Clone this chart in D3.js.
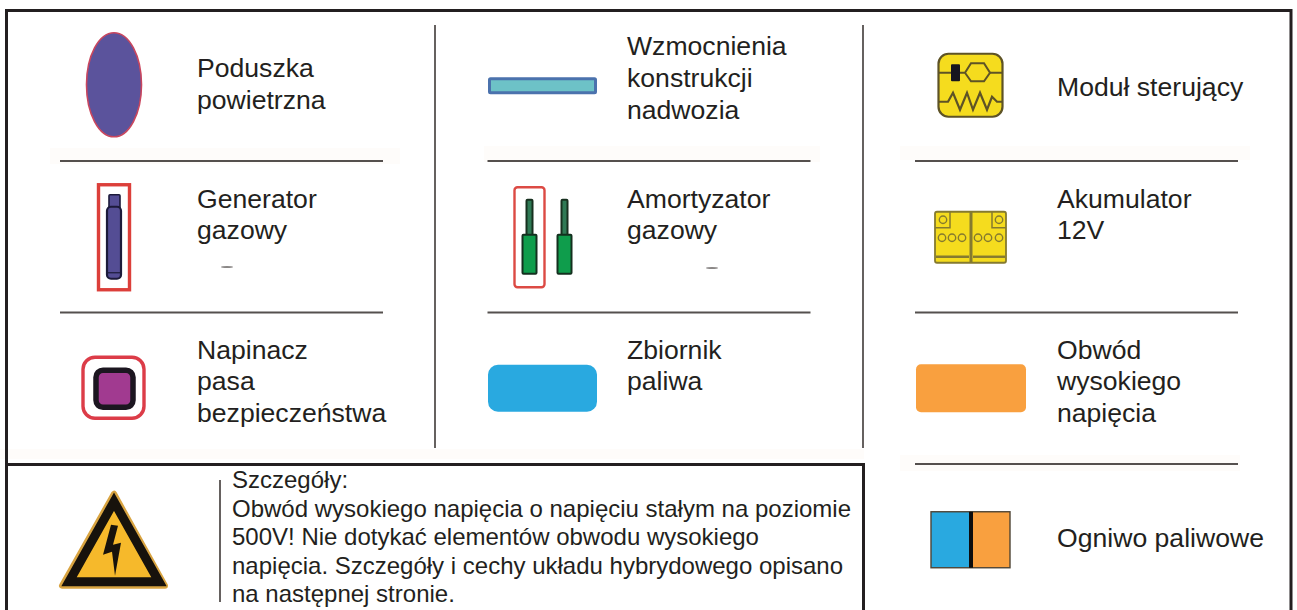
<!DOCTYPE html>
<html lang="pl">
<head>
  <meta charset="UTF-8">
  <script src="https://d3js.org/d3.v7.min.js"></script>
  <title>Legenda</title>
  <style>
    body { margin: 0; background: #fff; overflow: hidden; }
    text { font-family: "Liberation Sans", Arial, sans-serif; fill: #231f20; }
  </style>
</head>
<body>
<script>
  // Legend content, one list per column
  const column1 = [
    { icon: "airbag", lines: ["Poduszka", "powietrzna"] },
    { icon: "generator", lines: ["Generator", "gazowy"] },
    { icon: "tensioner", lines: ["Napinacz", "pasa", "bezpieczeństwa"] }
  ];
  const column2 = [
    { icon: "reinforcement", lines: ["Wzmocnienia", "konstrukcji", "nadwozia"] },
    { icon: "damper", lines: ["Amortyzator", "gazowy"] },
    { icon: "tank", lines: ["Zbiornik", "paliwa"] }
  ];
  const column3 = [
    { icon: "module", lines: ["Moduł sterujący"] },
    { icon: "battery", lines: ["Akumulator", "12V"] },
    { icon: "hv", lines: ["Obwód", "wysokiego", "napięcia"] },
    { icon: "fuelcell", lines: ["Ogniwo paliwowe"] }
  ];
  const columns = [column1, column2, column3];
  const detailLines = [
    "Szczegóły:",
    "Obwód wysokiego napięcia o napięciu stałym na poziomie",
    "500V! Nie dotykać elementów obwodu wysokiego",
    "napięcia. Szczegóły i cechy układu hybrydowego opisano",
    "na następnej stronie."
  ];

  const width = 1297, height = 610;
  const ink = "#231f20", rule = "#55504e", red = "#dc3f3a";
  const blue = "#29a9e0", orange = "#f9a03f", yellow = "#f5dc1e";

  const svg = d3.select("body").append("svg")
    .attr("width", width).attr("height", height)
    .style("display", "block");

  // Grid scales: column index and row index to page position
  const iconX = d3.scaleLinear().domain([0, 2]).range([114, 971]);
  const textX = d3.scaleLinear().domain([0, 2]).range([197, 1057]);
  const ruleX = d3.scaleLinear().domain([0, 2]).range([60, 915]);
  const rowBand = d3.scaleBand().domain([0, 1, 2, 3]).range([9.5, 615.5]);
  const rowMid = r => rowBand(r) + rowBand.bandwidth() / 2;
  const lineGap = 31.7;

  // Baseline of the first text line, relative to the row middle
  function firstBaseline(c, r, n) {
    if (n === 1) return c === 2 && r === 3 ? 7 : 10.5;
    if (r === 0) return n === 3 ? -30 : -8;
    if (r === 1) return -29;
    return -29.5;
  }

  // Faint scan halos behind the artwork
  const halo = "#fefcfa";
  [[50, 148, 350, 16], [484, 146, 336, 16], [900, 146, 350, 14], [900, 455, 340, 16], [0, 449, 864, 10]]
    .forEach(b => svg.append("rect").attr("x", b[0]).attr("y", b[1]).attr("width", b[2]).attr("height", b[3]).attr("fill", halo));

  // Frames
  const frame = svg.append("g").attr("fill", "none").attr("stroke", ink).attr("stroke-width", 3);
  frame.append("path").attr("d", d3.line()([[6.5, height], [6.5, 10.5], [1291, 10.5], [1291, height]]));
  frame.append("path").attr("d", d3.line()([[6.5, 464.5], [863.5, 464.5], [863.5, height]]));

  // Column dividers and row rules
  const rules = svg.append("g").attr("stroke", rule).attr("stroke-width", 1.8);
  rules.append("line").attr("x1", 435).attr("x2", 435).attr("y1", 25).attr("y2", 448);
  rules.append("line").attr("x1", 863).attr("x2", 863).attr("y1", 25).attr("y2", 448);
  rules.append("line").attr("x1", 220).attr("x2", 220).attr("y1", 480).attr("y2", 602);
  columns.forEach((col, c) => {
    d3.range(col.length - 1).forEach(r => {
      const y = rowBand(r + 1);
      rules.append("line").attr("x1", ruleX(c)).attr("x2", ruleX(c) + 323).attr("y1", y).attr("y2", y);
    });
  });

  // Small scan specks below the gazowy labels
  [[227, 267], [712, 268]].forEach(p => {
    svg.append("ellipse").attr("cx", p[0]).attr("cy", p[1]).attr("rx", 6).attr("ry", 1).attr("fill", "#8a8786");
  });

  // Icon painters, each drawn around (0,0)
  function box(g, x, y, w, h, rx, fill, stroke, sw) {
    return g.append("rect").attr("x", x).attr("y", y).attr("width", w).attr("height", h)
      .attr("rx", rx).attr("fill", fill).attr("stroke", stroke || "none").attr("stroke-width", sw || 0);
  }
  function stroke(g, pts, color, sw) {
    return g.append("path").attr("d", d3.line()(pts)).attr("fill", "none")
      .attr("stroke", color).attr("stroke-width", sw);
  }

  const painters = {
    airbag(g) {
      g.append("ellipse").attr("rx", 27.5).attr("ry", 52).attr("cy", -0.5)
        .attr("fill", "#5b539c").attr("stroke", "#c9465e").attr("stroke-width", 1.6);
    },
    generator(g) {
      box(g, -15.5, -52, 31, 105, 0, "none", red, 3.4);
      box(g, -5, -42, 11, 15, 1, "#544d94", "#1c1a3a", 1.6);
      box(g, -7, -30, 14, 72, 4, "#544d94", "#1c1a3a", 2.2);
      stroke(g, [[-7, 36], [7, 36]], "#1c1a3a", 1.2);
    },
    tensioner(g) {
      box(g, -31, -31, 61, 61, 12, "none", "#dc3c48", 3.4);
      box(g, -18, -18, 37, 37, 7, "#a13a90", "#1c1620", 5.5);
    },
    reinforcement(g) {
      box(g, -53, -6.5, 106, 14, 1, "#6dc2c7", "#4b72ad", 3);
    },
    damper(g) {
      box(g, -28, -49.5, 30, 100, 3, "none", "#dc4a44", 2.4);
      [0, 35].forEach(dx => {
        box(g, dx - 16, -37, 6, 36, 1, "#2f7a55", "#17301f", 2);
        box(g, dx - 20, -2, 14, 39, 1, "#0f9d4c", "#14301f", 2);
      });
    },
    tank(g) {
      box(g, -54.5, -23.5, 109, 47, 10, blue);
    },
    module(g) {
      const w = "#5e5326";
      box(g, -32.5, -31.5, 64, 63, 10, yellow, w, 2.2);
      stroke(g, [[-32, -12.5], [-20, -12.5]], w, 2);
      stroke(g, [[-11, -12.5], [-6, -12.5], [0, -22], [13, -22], [19, -12.5], [13, -4], [0, -4], [-6, -12.5]], w, 2);
      stroke(g, [[19, -12.5], [32, -12.5]], w, 2);
      box(g, -20, -21, 9, 17, 1, "#17161f");
      stroke(g, [[-33, 16.5], [-23, 16.5], [-18, 7.5], [-11, 24.5], [-4, 7.5], [2, 24.5], [9, 7.5], [16, 24.5], [21, 11.5], [26, 16.5], [32, 16.5]], w, 2.2);
    },
    battery(g) {
      const w = "#857a2f";
      box(g, -36, -25, 71, 51, 2, yellow, w, 1.8);
      stroke(g, [[0, -25], [0, 26]], w, 3);
      stroke(g, [[-36, -9], [-21, -9], [-21, -25]], w, 1.5);
      stroke(g, [[35, -9], [21, -9], [21, -25]], w, 1.5);
      [[-28, -17], [28, -17], [-29, 1], [-19, 1], [-9, 1], [7, 1], [17, 1], [28, 1]].forEach(p => {
        g.append("circle").attr("cx", p[0]).attr("cy", p[1]).attr("r", 3.7)
          .attr("fill", "none").attr("stroke", w).attr("stroke-width", 1.4);
      });
      stroke(g, [[-35, 20], [-2, 20]], w, 2.4);
      stroke(g, [[2, 20], [34, 20]], w, 2.4);
    },
    hv(g) {
      box(g, -55, -24, 110, 48, 5, orange);
    },
    fuelcell(g) {
      box(g, -40, -28, 40, 56, 0, blue);
      box(g, 0, -28, 39, 56, 0, orange);
      box(g, -40, -28, 79, 56, 0, "none", "#4f4536", 1.4);
      box(g, -2, -28, 4, 56, 0, "#0d0d0d");
    }
  };

  // Icons and labels from the column lists
  columns.forEach((col, c) => {
    col.forEach((item, r) => {
      const g = svg.append("g").attr("transform", `translate(${iconX(c)},${rowMid(r)})`);
      painters[item.icon](g);
      const y0 = rowMid(r) + firstBaseline(c, r, item.lines.length);
      svg.append("g").selectAll("text").data(item.lines).enter().append("text")
        .attr("x", textX(c))
        .attr("y", (d, i) => y0 + i * lineGap)
        .attr("font-size", 26.6)
        .text(d => d);
    });
  });

  // Warning sign in the details box
  const sign = svg.append("g").attr("transform", `translate(113,${rowMid(3)})`);
  sign.append("path").attr("d", "M1,-46 L-51,46 L52,46 Z")
    .attr("fill", "#f6b92b").attr("stroke", "#d9a441").attr("stroke-width", 6).attr("stroke-linejoin", "round");
  sign.append("path").attr("d", "M1,-38 L-44,42 L46,42 Z")
    .attr("fill", "#f6b92b").attr("stroke", "#17120c").attr("stroke-width", 9).attr("stroke-linejoin", "miter");
  sign.append("path").attr("d", "M-2,-15 L5,-14 L0,5 L8,3 L2,36 L-1,12 L-10,15 Z").attr("fill", "#17120c");

  // Details text
  const detailY = d3.scaleLinear().domain([0, 4]).range([488, 602]);
  svg.append("g").selectAll("text").data(detailLines).enter().append("text")
    .attr("x", 232)
    .attr("y", (d, i) => detailY(i))
    .attr("font-size", 24)
    .text(d => d);
</script>
</body>
</html>
